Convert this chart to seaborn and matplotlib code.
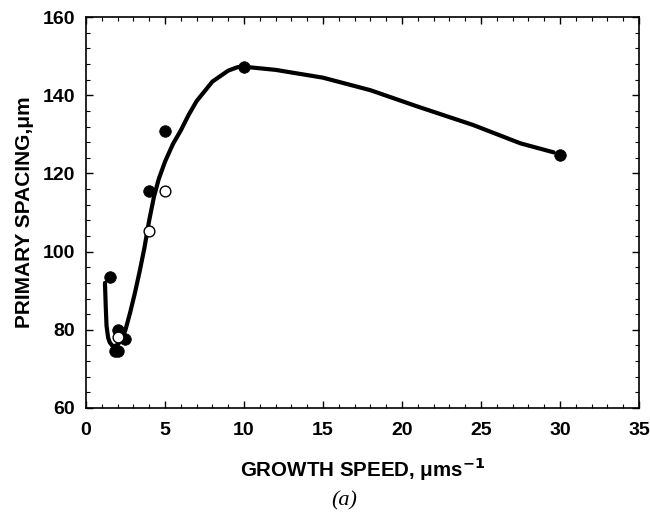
import matplotlib
matplotlib.use("Agg")
import matplotlib.pyplot as plt
import seaborn as sns
import pandas as pd
from matplotlib.ticker import MultipleLocator

# Filled circles (data set 1)
filled_x = [1.5, 2.0, 1.85, 2.05, 2.5, 4.0, 5.0, 10.0, 30.0]
filled_y = [93.5, 80.0, 74.7, 74.7, 77.7, 115.5, 130.8, 147.3, 124.8]

# Open circles (data set 2)
open_x = [2.0, 4.0, 5.0]
open_y = [78.2, 105.3, 115.5]

# Hand-drawn fitted curve
curve_x = [1.2, 1.25, 1.3, 1.4, 1.5, 1.65, 1.8, 2.0, 2.25, 2.5, 2.8, 3.1, 3.4,
           3.7, 4.0, 4.3, 4.6, 5.0, 5.5, 6.0, 6.5, 7.0, 8.0, 9.0, 9.6, 10.0,
           12.0, 15.0, 18.0, 21.0, 24.5, 27.5, 29.6]
curve_y = [92.0, 86.0, 81.0, 78.0, 76.8, 76.0, 75.8, 76.2, 77.4, 80.0, 84.5, 89.5, 95.0,
           101.0, 108.0, 114.0, 118.5, 123.0, 127.5, 131.0, 135.0, 138.5, 143.5, 146.3, 147.2, 147.3,
           146.5, 144.5, 141.3, 137.1, 132.4, 127.7, 125.4]

sns.set_style("ticks")
plt.rcParams['font.family'] = ['Liberation Sans', 'DejaVu Sans']
plt.rcParams['text.color'] = 'black'
plt.rcParams['axes.labelcolor'] = 'black'
plt.rcParams['xtick.color'] = 'black'
plt.rcParams['ytick.color'] = 'black'

fig = plt.figure(figsize=(6.5, 5.18), dpi=100)
ax = fig.add_axes([0.1323, 0.2124, 0.8507, 0.7546])

curve = pd.DataFrame({"x": curve_x, "y": curve_y})
sns.lineplot(data=curve, x="x", y="y", sort=False, color="black", linewidth=3.0,
             ax=ax, zorder=2)

fd = pd.DataFrame({"x": filled_x, "y": filled_y})
sns.scatterplot(data=fd, x="x", y="y", color="black", s=70, edgecolor="black",
                linewidth=0.5, ax=ax, zorder=3)
od = pd.DataFrame({"x": open_x, "y": open_y})
sns.scatterplot(data=od, x="x", y="y", color="white", s=60, edgecolor="black",
                linewidth=1.0, ax=ax, zorder=4)

ax.set_xlim(0, 35)
ax.set_ylim(60, 160)
ax.xaxis.set_major_locator(MultipleLocator(5))
ax.xaxis.set_minor_locator(MultipleLocator(1))
ax.yaxis.set_major_locator(MultipleLocator(20))
ax.yaxis.set_minor_locator(MultipleLocator(4))
ax.tick_params(which="both", direction="in", top=True, right=True, colors="black")
ax.tick_params(which="major", length=5, width=1.0, labelsize=14)
ax.tick_params(axis="x", which="major", pad=10)
ax.tick_params(axis="y", which="major", pad=8)
ax.tick_params(which="minor", length=3, width=0.8)
for lab in ax.get_xticklabels() + ax.get_yticklabels():
    lab.set_fontweight("bold")
for sp in ax.spines.values():
    sp.set_visible(True)
    sp.set_linewidth(1.2)
    sp.set_color("black")

ax.set_xlabel("GROWTH SPEED, \u03bcms$^{\\mathbf{-1}}$", fontsize=14.8, fontweight="bold", labelpad=12)
ax.set_ylabel("PRIMARY SPACING,\u03bcm", fontsize=15, fontweight="bold", labelpad=6)

fig.text(0.53, 0.033, "(a)", fontsize=16, family=["Liberation Serif"], style="italic",
         ha="center", va="center")

fig.savefig("out.png", dpi=100)
